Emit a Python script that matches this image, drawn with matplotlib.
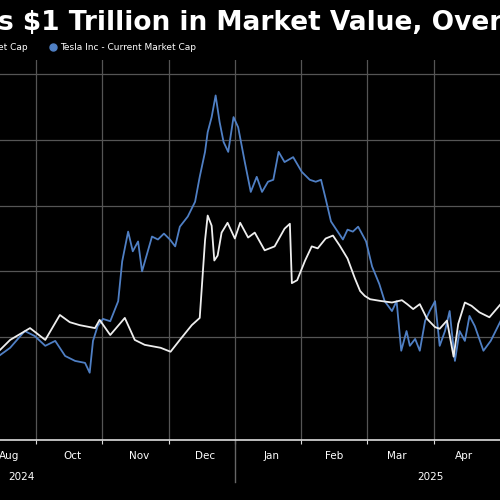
import matplotlib
matplotlib.use("Agg")
import matplotlib.pyplot as plt
import numpy as np

# readings: month position (0 = Sep 1, 2024) and market cap ($bn)
tsla_x = [-0.54, -0.39, -0.17, -0.02, 0.14, 0.29, 0.44, 0.59, 0.74, 0.81, 0.86, 0.93, 1.01, 1.12, 1.24,
          1.30, 1.39, 1.46, 1.54, 1.60, 1.75, 1.84, 1.93, 2.02, 2.10, 2.17, 2.29, 2.40, 2.47, 2.55,
          2.59, 2.65, 2.71, 2.77, 2.83, 2.90, 2.98, 3.05, 3.15, 3.24, 3.33, 3.41, 3.50, 3.58, 3.66,
          3.75, 3.88, 4.01, 4.13, 4.22, 4.30, 4.37, 4.45, 4.63, 4.70, 4.78, 4.86, 4.98, 5.07, 5.18,
          5.26, 5.37, 5.44, 5.51, 5.59, 5.64, 5.72, 5.79, 5.87, 5.94, 6.02, 6.09, 6.17, 6.24, 6.32,
          6.39, 6.47, 6.54, 6.62, 6.75, 6.86, 7.01, 7.08]
tsla_v = [745, 767, 818, 803, 773, 788, 742, 727, 721, 691, 788, 833, 855, 848, 909,
          1030, 1121, 1061, 1091, 1000, 1106, 1097, 1115, 1097, 1076, 1136, 1167, 1212, 1288, 1364,
          1424, 1470, 1536, 1455, 1394, 1364, 1470, 1439, 1333, 1242, 1288, 1242, 1273, 1279, 1364,
          1333, 1348, 1303, 1279, 1273, 1279, 1221, 1152, 1097, 1127, 1121, 1136, 1091, 1015, 961,
          909, 879, 909, 758, 818, 773, 794, 758, 849, 879, 909, 773, 818, 879, 727,
          818, 788, 864, 833, 758, 788, 849, 894]
other_x = [-0.54, -0.39, -0.09, 0.14, 0.36, 0.51, 0.66, 0.89, 0.96, 1.12, 1.34, 1.49, 1.64, 1.88,
           2.03, 2.17, 2.35, 2.47, 2.55, 2.59, 2.65, 2.69, 2.74, 2.80, 2.89, 3.00, 3.08, 3.20, 3.30,
           3.45, 3.60, 3.75, 3.83, 3.86, 3.94, 4.06, 4.16, 4.25, 4.37, 4.48, 4.58, 4.70, 4.81, 4.89,
           4.96, 5.04, 5.19, 5.37, 5.52, 5.60, 5.69, 5.79, 5.90, 6.02, 6.09, 6.20, 6.30, 6.37, 6.47,
           6.57, 6.69, 6.84, 7.01, 7.08]
other_v = [761, 791, 827, 791, 867, 845, 836, 827, 852, 806, 858, 791, 776, 767,
           755, 791, 836, 858, 1094, 1170, 1139, 1033, 1048, 1118, 1148, 1100, 1148, 1103, 1118,
           1064, 1076, 1130, 1145, 964, 973, 1033, 1076, 1070, 1100, 1109, 1079, 1039, 979, 940,
           925, 915, 910, 905, 912, 900, 885, 900, 855, 830, 825, 850, 740, 840, 905,
           895, 875, 860, 900, 894]
month_labels = ["Aug", "Oct", "Nov", "Dec", "Jan", "Feb", "Mar", "Apr"]
month_pos = [-0.40, 0.55, 1.55, 2.55, 3.55, 4.50, 5.45, 6.45]
year_labels = ["2024", "2025"]
year_pos = [-0.22, 5.95]

BG = "black"
BLUE = "#4f7fc4"
fig = plt.figure(figsize=(5, 5), dpi=100, facecolor=BG)
ax = fig.add_axes([0, 0.12, 1, 0.76], facecolor=BG)
ax.plot(tsla_x, tsla_v, color=BLUE, lw=1.3)
ax.plot(other_x, other_v, color="#eeeeee", lw=1.3)
ax.set_xlim(-0.543, 7.0)
ax.set_ylim(486, 1644)
for m in range(7):
    ax.axvline(m, color="#555555", lw=0.9, zorder=0)
for v in [800, 1000, 1200, 1400, 1600]:
    ax.axhline(v, color="#555555", lw=0.9, zorder=0)
for s in ax.spines.values():
    s.set_visible(False)
ax.spines["bottom"].set_visible(True)
ax.spines["bottom"].set_color("#dddddd")
ax.spines["bottom"].set_linewidth(1.2)
ax.set_yticks([])
ax.set_xticks(range(7))
ax.tick_params(axis="x", colors="#dddddd", length=3, labelbottom=False)
for lab, p in zip(month_labels, month_pos):
    ax.text(p, -0.03, lab, transform=ax.get_xaxis_transform(), color="white",
            fontsize=7.5, ha="center", va="top")
for lab, p in zip(year_labels, year_pos):
    ax.text(p, -0.085, lab, transform=ax.get_xaxis_transform(), color="white",
            fontsize=7.5, ha="center", va="top")
ax.plot([3, 3], [0, -0.11], transform=ax.get_xaxis_transform(), color="#666666",
        lw=1, clip_on=False)

fig.text(-0.005, 0.955, "s $1 Trillion in Market Value, Over", color="white",
         fontsize=19, fontweight="bold", ha="left", va="center")
fig.text(-0.005, 0.905, "et Cap", color="white", fontsize=6.5, ha="left", va="center")
fig.patches.append(matplotlib.patches.Circle((0.107, 0.905), 0.007, color=BLUE,
                                             transform=fig.transFigure, figure=fig))
fig.text(0.12, 0.905, "Tesla Inc - Current Market Cap", color="white", fontsize=6.5,
         ha="left", va="center")
fig.savefig("out.png", dpi=100, facecolor=BG)
